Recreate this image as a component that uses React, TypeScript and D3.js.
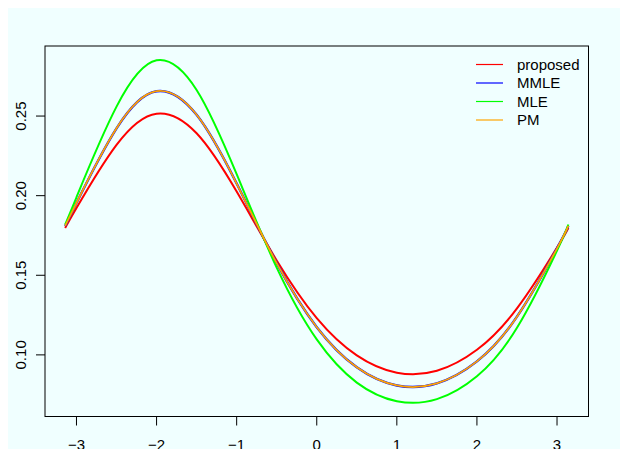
import React from "react";
import * as d3 from "d3";

// x positions (radians) where the curves were read
const xs = [-3.1416, -3.0, -2.5, -2.0, -1.5, -1.0, -0.5, 0.0, 0.5, 1.0, 1.5, 2.0, 2.5, 3.0, 3.1416];

const proposed = [0.1797, 0.1922, 0.2319, 0.2515, 0.2392, 0.2026, 0.1593, 0.1231, 0.0997, 0.0888, 0.0900, 0.1032, 0.1292, 0.1674, 0.1797];
const mmle = [0.1810, 0.1954, 0.2423, 0.2656, 0.2508, 0.2076, 0.1576, 0.1174, 0.0922, 0.0808, 0.0821, 0.0959, 0.1240, 0.1669, 0.1810];
const mle = [0.1819, 0.1990, 0.2559, 0.2850, 0.2664, 0.2135, 0.1548, 0.1097, 0.0826, 0.0709, 0.0722, 0.0866, 0.1170, 0.1655, 0.1819];
const pm = [0.1810, 0.1954, 0.2423, 0.2656, 0.2508, 0.2076, 0.1576, 0.1174, 0.0922, 0.0808, 0.0821, 0.0959, 0.1240, 0.1669, 0.1810];

const seriesNames = ["proposed", "MMLE", "MLE", "PM"];
const seriesColors = ["#FF0000", "#0000FF", "#00FF00", "#FFA500"];

const xTicks = [-3, -2, -1, 0, 1, 2, 3];
const yTicks = [0.10, 0.15, 0.20, 0.25];

const xDomain = [-3.393, 3.393];
const yDomain = [0.0613, 0.294];

export default function App() {
  const W = 620, H = 449;
  const left = 45, right = 588.5, top = 46, bottom = 416.5;
  const x = d3.scaleLinear().domain(xDomain).range([left, right]);
  const y = d3.scaleLinear().domain(yDomain).range([bottom, top]);
  const line = d3
    .line<[number, number]>()
    .x((d) => x(d[0]))
    .y((d) => y(d[1]))
    .curve(d3.curveNatural);
  const pts = (vals: number[]) => xs.map((v, i) => [v, vals[i]] as [number, number]);
  const font = "'Liberation Sans', Arial, Helvetica, sans-serif";
  const fs = 15;

  return (
    <svg
      width={W}
      height={H}
      style={{ position: "absolute", left: 0, top: 0, display: "block" }}
      fontFamily={font}
    >
      <rect x={0} y={0} width={W} height={H} fill="#ffffff" />
      <rect x={8} y={8} width={W - 8} height={H - 8} fill="#F0FFFF" />

      {/* curves */}
      <path d={line(pts(proposed)) || ""} fill="none" stroke={seriesColors[0]} strokeWidth={2} />
      <path d={line(pts(mmle)) || ""} fill="none" stroke={seriesColors[1]} strokeWidth={2.4} />
      <path d={line(pts(mle)) || ""} fill="none" stroke={seriesColors[2]} strokeWidth={2} />
      <path d={line(pts(pm)) || ""} fill="none" stroke={seriesColors[3]} strokeWidth={1.8} />

      {/* box */}
      <rect x={left} y={top} width={right - left} height={bottom - top} fill="none" stroke="#000" strokeWidth={1} />

      {/* x axis */}
      {xTicks.map((t) => (
        <g key={"x" + t}>
          <line x1={x(t)} x2={x(t)} y1={bottom} y2={bottom + 9} stroke="#000" strokeWidth={1} />
          <text x={x(t)} y={450} fontSize={fs} textAnchor="middle" fill="#000">
            {t < 0 ? "\u2212" + Math.abs(t) : String(t)}
          </text>
        </g>
      ))}

      {/* y axis */}
      {yTicks.map((t) => (
        <g key={"y" + t}>
          <line x1={left - 9} x2={left} y1={y(t)} y2={y(t)} stroke="#000" strokeWidth={1} />
          <text
            transform={`translate(${25.5},${y(t)}) rotate(-90)`}
            fontSize={fs}
            textAnchor="middle"
            fill="#000"
          >
            {t.toFixed(2)}
          </text>
        </g>
      ))}

      {/* legend */}
      {seriesNames.map((n, i) => {
        const ly = 64.5 + i * 18.5;
        return (
          <g key={n}>
            <line x1={476} x2={503} y1={ly} y2={ly} stroke={seriesColors[i]} strokeWidth={1.2} />
            <text x={517} y={ly + 5.3} fontSize={fs} fill="#000">
              {n}
            </text>
          </g>
        );
      })}
    </svg>
  );
}
